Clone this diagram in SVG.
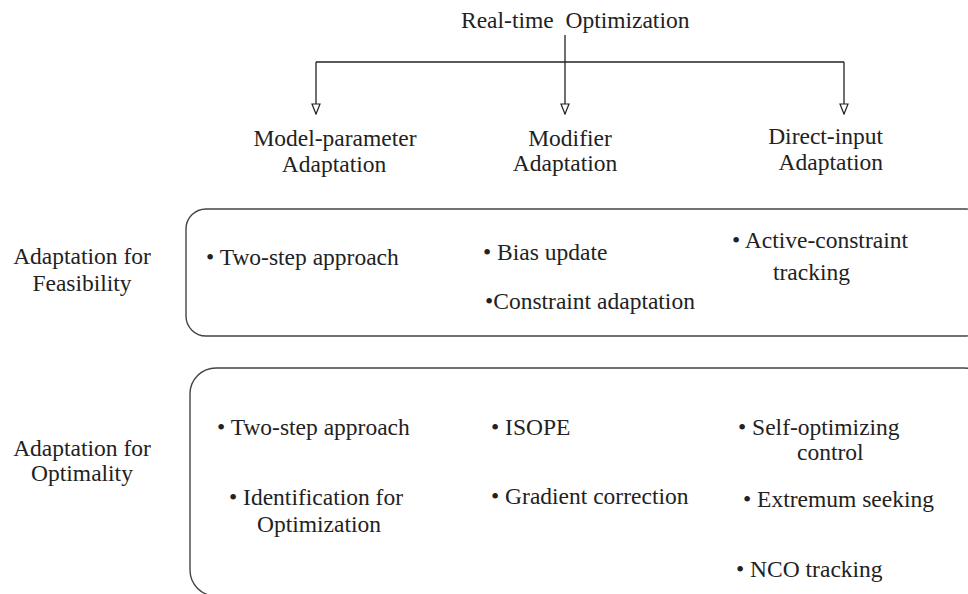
<svg xmlns="http://www.w3.org/2000/svg" width="968" height="594" viewBox="0 0 968 594">
<style>
text{font-family:"Liberation Serif","Times New Roman",serif;font-size:23.5px;fill:#222}
.m{text-anchor:middle}
.e{text-anchor:end}
.ln{stroke:#222;stroke-width:1.3;fill:none}
.box{stroke:#444;stroke-width:1.4;fill:none}
</style>
<defs>
<marker id="arr" viewBox="0 0 12 10" refX="11" refY="5" markerWidth="12" markerHeight="10" markerUnits="userSpaceOnUse" orient="auto">
<path d="M1,1 L11,5 L1,9 Z" fill="#fff" stroke="#222" stroke-width="1.2"/>
</marker>
</defs>
<rect width="968" height="594" fill="#fff"/>
<g id="root"><text x="461" y="28" xml:space="preserve">Real-time  Optimization</text></g>
<g id="connectors">
<line class="ln" x1="565" y1="35" x2="565" y2="114" marker-end="url(#arr)"/>
<line class="ln" x1="316" y1="62" x2="844" y2="62"/>
<line class="ln" x1="316" y1="62" x2="316" y2="114" marker-end="url(#arr)"/>
<line class="ln" x1="844" y1="62" x2="844" y2="114" marker-end="url(#arr)"/>
</g>
<g id="model-parameter"><text class="m" x="335" y="146">Model-parameter</text><text class="m" x="334" y="172">Adaptation</text></g>
<g id="modifier"><text class="m" x="570" y="146">Modifier</text><text class="m" x="565" y="171">Adaptation</text></g>
<g id="direct-input"><text class="e" x="883" y="144">Direct-input</text><text class="e" x="883" y="170">Adaptation</text></g>
<g id="feasibility-label"><text class="m" x="82" y="264">Adaptation for</text><text class="m" x="82" y="291">Feasibility</text></g>
<g id="feasibility">
<rect class="box" x="186" y="209" width="800" height="127" rx="20"/>
<text x="206" y="265">• Two-step approach</text>
<text x="483" y="260">• Bias update</text>
<text x="485" y="309">•Constraint adaptation</text>
<text x="732" y="248">• Active-constraint</text>
<text x="773" y="280">tracking</text>
</g>
<g id="optimality-label"><text class="m" x="82" y="456">Adaptation for</text><text class="m" x="82" y="481">Optimality</text></g>
<g id="optimality">
<rect class="box" x="190" y="368" width="800" height="228" rx="26"/>
<text x="217" y="435">• Two-step approach</text>
<text x="229" y="505">• Identification for</text>
<text x="257" y="532">Optimization</text>
<text x="491" y="435">• ISOPE</text>
<text x="491" y="504">• Gradient correction</text>
<text x="738" y="435">• Self-optimizing</text>
<text x="797" y="460">control</text>
<text x="743" y="507">• Extremum seeking</text>
<text x="736" y="577">• NCO tracking</text>
</g>
</svg>
